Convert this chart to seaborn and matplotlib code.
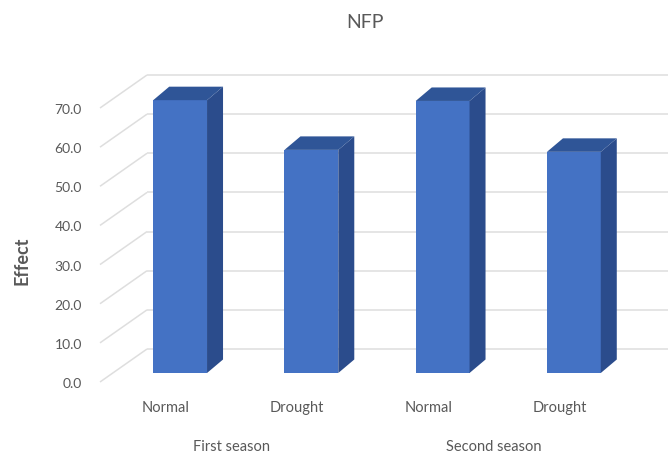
import matplotlib
matplotlib.use("Agg")
import matplotlib.pyplot as plt
from matplotlib.patches import Polygon
import numpy as np
import pandas as pd
import seaborn as sns

# Data
seasons = ["First season", "First season", "Second season", "Second season"]
treatments = ["Normal", "Drought", "Normal", "Drought"]
effect = [69.7, 57.0, 69.5, 56.5]
y_ticks = [0, 10, 20, 30, 40, 50, 60, 70]

sns.set_theme(style="white")
plt.rcParams["font.family"] = ["Lato", "DejaVu Sans"]

FRONT = "#4472C4"
TOP = "#2F5597"
SIDE = "#2B4C8C"
GRID = "#DEDEDE"
TEXT = "#595959"

fig = plt.figure(figsize=(6.68, 4.56), dpi=100)
ax = fig.add_axes([100 / 668, 73 / 456, 525 / 668, 274 / 456])

df = pd.DataFrame({
    "key": [f"{s} {t}" for s, t in zip(seasons, treatments)],
    "treatment": treatments,
    "season": seasons,
    "effect": effect,
})

sns.barplot(data=df, x="key", y="effect", color=FRONT, width=0.41,
            saturation=1, ax=ax, zorder=3, edgecolor="none")
ax.set_xlim(-0.5, 3.5)
ax.set_ylim(0, 70)

# pixel -> data unit conversion for the oblique depth offsets
bb = ax.get_window_extent()
ux = (ax.get_xlim()[1] - ax.get_xlim()[0]) / bb.width
uy = (ax.get_ylim()[1] - ax.get_ylim()[0]) / bb.height


def off(px, py):
    return px * ux, py * uy


fx, fy = off(14.5, 9)      # bar front face relative to the label plane
dx, dy = off(16, 13.5)     # bar depth
wx, wy = off(47, 33)       # back wall relative to the label plane

# back wall and floor gridlines
x_left, x_right = ax.get_xlim()
for v in y_ticks:
    ax.plot([x_left, x_left + wx], [v, v + wy], color=GRID, lw=1.1,
            clip_on=False, zorder=1, solid_capstyle="butt")
    ax.plot([x_left + wx, x_right + wx], [v + wy, v + wy], color=GRID, lw=1.1,
            clip_on=False, zorder=1, solid_capstyle="butt")

# shift front faces and add the top / side faces of each column
for p in ax.patches:
    x0, w, h = p.get_x(), p.get_width(), p.get_height()
    p.set_x(x0 + fx)
    p.set_y(fy)
    p.set_clip_on(False)
    xa, xb = x0 + fx, x0 + fx + w
    y0, y1 = fy, fy + h
    side = Polygon([(xb, y0), (xb + dx, y0 + dy), (xb + dx, y1 + dy), (xb, y1)],
                   closed=True, facecolor=SIDE, edgecolor="none",
                   clip_on=False, zorder=3)
    top = Polygon([(xa, y1), (xa + dx, y1 + dy), (xb + dx, y1 + dy), (xb, y1)],
                  closed=True, facecolor=TOP, edgecolor="none",
                  clip_on=False, zorder=3)
    ax.add_patch(side)
    ax.add_patch(top)

for s in ax.spines.values():
    s.set_visible(False)

ax.set_yticks(y_ticks)
ax.set_yticklabels([f"{v:.1f}" for v in y_ticks], color=TEXT, fontsize=10)
ax.set_xticks(range(len(treatments)))
ax.set_xticklabels(treatments, color=TEXT, fontsize=10.5)
ax.tick_params(axis="y", length=0, pad=13)
ax.tick_params(axis="x", length=0, pad=13)
ax.set_xlabel("")
ax.set_ylabel("")

# season group labels
for s in dict.fromkeys(seasons):
    idx = [i for i, v in enumerate(seasons) if v == s]
    ax.annotate(s, xy=(np.mean(idx), 0), xycoords=("data", "axes fraction"),
                xytext=(0, -64 * 0.72), textcoords="offset points",
                ha="center", va="center", color=TEXT, fontsize=10.5)

fig.text(365 / 668, 1 - 22 / 456, "NFP", ha="center", va="center",
         color=TEXT, fontsize=14)
fig.text(22 / 668, 1 - 261 / 456, "Effect", ha="center", va="center",
         rotation=90, color=TEXT, fontsize=13, fontweight="bold")

fig.savefig("out.png", dpi=100, facecolor="white")
